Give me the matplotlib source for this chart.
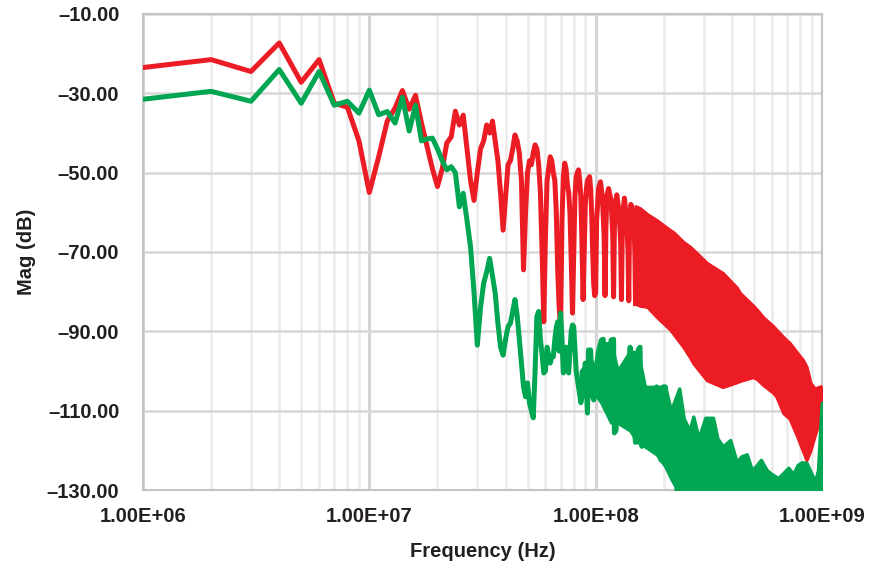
import numpy as np
import matplotlib
matplotlib.use("Agg")
import matplotlib.pyplot as plt
from matplotlib.ticker import LogLocator, NullFormatter, FixedLocator

# frequencies in MHz, magnitudes in dB
red_f = list(range(1, 101)) + [101, 103, 105, 107, 109, 110, 111, 112, 114, 117, 119, 120,
                                121, 122, 124, 127, 129, 130, 131, 132, 134, 137, 139, 140,
                                141, 143, 147, 149, 150]
red_db = [-23.5, -21.5, -24.5, -17.3, -27.2, -21.5, -32.5, -33.5, -42, -55,
          -46, -37, -33.7, -29.3, -34, -30.5, -37.5, -43.4, -49, -53.5,
          -49, -42.5, -41, -34.5, -38, -35.5, -44, -52, -57, -50,
          -44, -42, -38, -40, -37, -42, -47, -55, -64.5, -56,
          -48, -47, -44, -40.5, -42, -45, -52, -74.5, -60, -50,
          -47, -48, -45, -43, -44, -48, -55, -70, -87.6, -66,
          -52, -49, -46, -47, -50, -52, -60, -75, -84, -89,
          -62, -51, -47.6, -49, -53, -55, -60, -72, -85.4, -70,
          -56, -51, -50, -49.3, -52, -56, -68, -82, -70, -58,
          -54, -52, -51.5, -51, -54, -60, -70, -78, -81, -80.3,
          -62, -54, -52.3, -56, -66, -81, -64, -56, -54, -57, -66, -81.3,
          -64, -58, -55.6, -60, -68, -82, -66, -60, -56.4, -62, -70, -82.3,
          -66, -58, -60, -70, -83]

# dense part of the red trace: upper and lower envelope
red_band_f = [150, 157, 169, 186, 213, 220, 244, 261, 270, 310, 364, 420, 433, 495,
              516, 550, 610, 630, 675, 720, 778, 822, 854, 888, 930, 970, 990]
red_band_hi = [-58.5, -59, -60.5, -62, -64.5, -65, -67.5, -68.7, -69.5, -72.8, -75.3, -79, -80.3, -83.5,
               -84.6, -86.5, -88.8, -89.7, -91.5, -93, -95.5, -97.2, -99, -103, -104.5, -104, -104]
red_band_lo = [-83, -83.5, -83.8, -86.3, -89.5, -90.5, -93.9, -96.5, -98, -102.3, -104, -102.8, -102.5, -101.5,
               -102, -103.5, -105.5, -106.5, -110.6, -112, -116.5, -120, -122.4, -120, -116, -113, -112]
red_tail_f = [990, 996, 1000]
red_tail_db = [-112, -104, -131]

green_f = list(range(1, 81)) + [82, 84, 86, 88, 90, 92, 93, 95, 97, 98, 100, 103, 106, 108, 110,
                                112, 114, 117, 120, 121, 123, 126, 129, 132, 136, 140, 142, 146,
                                150, 154, 157, 160, 165, 170, 175, 180, 186, 190, 194, 199, 203, 208]
green_db = [-31.5, -29.5, -32, -24, -32.5, -24.5, -33, -32, -35, -29.2,
            -35.4, -34.6, -37.5, -31, -39.5, -33, -42, -41.5, -41.3, -44,
            -47, -49.3, -48.5, -50, -58.6, -55.2, -62, -68.7, -80, -93.5,
            -84, -77.9, -75, -71.6, -76, -80.4, -88, -94, -96, -92,
            -88.8, -88, -85, -82, -86, -92, -98, -104, -106.5, -103,
            -108, -110, -111.8, -100, -86.3, -85, -92, -96, -100.5, -100,
            -94, -96, -98, -96.4, -96.4, -92, -89, -87.6, -95, -85.4,
            -92, -100.5, -96, -94, -98, -100.5, -95, -90, -88.4, -88.8,
            -100, -104, -108, -105, -98, -110.6, -94.7, -94.7, -106.5, -107.3,
            -100, -95, -92.2, -92, -104, -108, -98, -92.2, -92, -115.6,
            -115, -106, -113, -104, -110, -100, -94, -110, -118, -94.7,
            -94, -119, -110, -116, -108, -112, -104, -118, -122.4, -104,
            -104, -123]

# dense part of the green trace (its floor runs below the axis)
green_band_f = [86, 95, 100, 106, 117, 125, 142, 154, 165, 186, 203, 215, 225, 234, 245,
                260, 270, 285, 305, 330, 345, 365, 393, 420, 440, 465, 490, 510, 537, 570,
                600, 640, 680, 710, 745, 780, 815, 855, 900, 930, 960, 975, 990, 1000]
green_band_hi = [-100, -97, -100, -93, -93, -100, -95, -95.5, -104, -104, -104, -110, -107,
                 -104.4, -112, -115, -111.5, -117, -111.8, -111.8, -117, -119, -117.4, -123,
                 -121.5, -121, -125, -124, -122.4, -125, -126, -127, -125.5, -124.4, -126,
                 -123.7, -123, -123.2, -126, -128, -125, -118, -111.5, -108]
green_band_lo = [-104, -106, -106, -108, -113, -113, -115, -118, -119, -121, -124, -127,
                 -129, -140, -140, -140, -140, -140, -140, -140, -140, -140, -140, -140,
                 -140, -140, -140, -140, -140, -140, -140, -140, -140, -140, -140, -140,
                 -140, -140, -140, -140, -140, -140, -140, -140]

y_ticks = [-10, -30, -50, -70, -90, -110, -130]
y_labels = ["\u201310.00", "\u201330.00", "\u201350.00", "\u201370.00",
            "\u201390.00", "\u2013110.00", "\u2013130.00"]
x_ticks = [1e6, 1e7, 1e8, 1e9]
x_labels = ["1.00E+06", "1.00E+07", "1.00E+08", "1.00E+09"]

RED = "#EC1C24"
GREEN = "#00A651"

plt.rcParams['font.family'] = ['Liberation Sans', 'DejaVu Sans']

fig = plt.figure(figsize=(8.93, 5.64), dpi=100)
ax = fig.add_axes([0.1601, 0.1312, 0.7604, 0.8440])

mhz = 1e6
ax.plot(np.array(red_f) * mhz, red_db, color=RED, lw=3.6, zorder=3)
ax.fill_between(np.array(red_band_f) * mhz, red_band_lo, red_band_hi,
                color=RED, lw=2.5, zorder=3)
ax.plot(np.array(red_tail_f) * mhz, red_tail_db, color=RED, lw=2.5, zorder=3)

ax.plot(np.array(green_f) * mhz, green_db, color=GREEN, lw=3.6, zorder=4)
ax.fill_between(np.array(green_band_f) * mhz, green_band_lo, green_band_hi,
                color=GREEN, lw=2.5, zorder=4)

ax.set_xscale('log')
ax.set_xlim(1e6, 1e9)
ax.set_ylim(-130, -10)

ax.xaxis.set_major_locator(FixedLocator(x_ticks))
ax.set_xticklabels(x_labels)
ax.xaxis.set_minor_locator(LogLocator(base=10, subs=np.arange(2, 10)))
ax.xaxis.set_minor_formatter(NullFormatter())
ax.set_yticks(y_ticks)
ax.set_yticklabels(y_labels)

ax.grid(which='major', axis='x', color='#d4d4d4', lw=2.2, zorder=0)
ax.grid(which='minor', axis='x', color='#ebebeb', lw=1.8, zorder=0)
ax.grid(which='major', axis='y', color='#d8d8d8', lw=1.8, zorder=0)
ax.set_axisbelow(True)

ax.tick_params(which='both', length=0)
ax.tick_params(axis='y', pad=17, labelsize=14.5, labelcolor='#231f20')
ax.tick_params(axis='x', pad=12, labelsize=14.5, labelcolor='#231f20')
for lab in ax.get_xticklabels() + ax.get_yticklabels():
    lab.set_fontweight('bold')

for sp in ax.spines.values():
    sp.set_color('#c4c4c4')
    sp.set_linewidth(1.5)

ax.set_xlabel("Frequency (Hz)", fontsize=14.5, fontweight='bold', color='#231f20', labelpad=12)
ax.set_ylabel("Mag (dB)", fontsize=14.5, fontweight='bold', color='#231f20', labelpad=8)

fig.savefig("out.png", dpi=100)
